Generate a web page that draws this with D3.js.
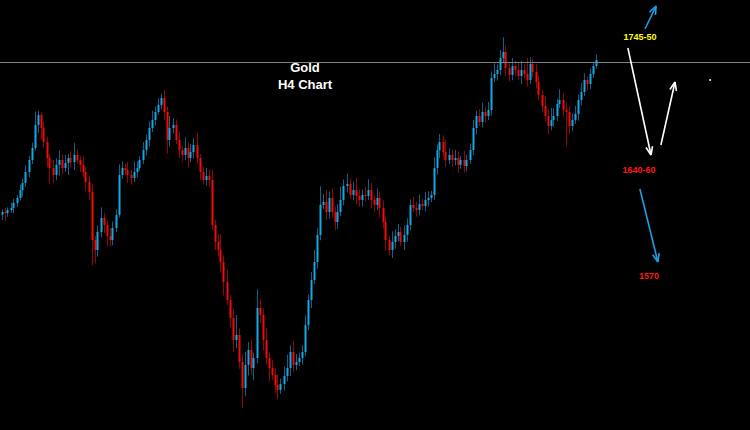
<!DOCTYPE html>
<html><head><meta charset="utf-8">
<script src="https://cdn.jsdelivr.net/npm/d3@7/dist/d3.min.js"></script>
<style>html,body{margin:0;padding:0;background:#000;overflow:hidden}</style>
</head><body>
<svg id="c" width="750" height="430"></svg>
<script>
// Gold H4 closes (USD), candle open = previous close
const firstOpen = 1614;
const closes = [
1616,1615.3,1617.5,1619,1622.8,1626.5,1632.5,1637.8,1646,1655,
1664,1681.3,1688.8,1679,1668.5,1656.5,1649,1643.8,1651.3,1655,
1649,1652.8,1656.5,1653.5,1658.8,1655,1651.3,1646,1638.5,1631,
1595,1587.5,1601,1611.5,1606.3,1598,1595,1604,1613.8,1643.8,
1649,1647.5,1643.8,1641.5,1646,1649,1655,1662.5,1670,1679,
1685,1691,1696.3,1701.5,1691,1670,1679,1681.3,1670,1662.5,
1658.8,1664,1656.5,1661,1666.3,1656.5,1646,1640,1643,1640,
1606.3,1593.5,1587.5,1578.5,1563.5,1550,1536.5,1520,1523.8,1503.5,
1484,1501.3,1512.5,1499,1506.5,1544,1538.8,1520,1506.5,1499,
1493.8,1486.3,1482.5,1487,1493,1499,1511,1501.3,1503.5,1506.5,
1511,1531.3,1550,1565,1578.5,1598.8,1621.3,1623.5,1616,1626.5,
1616,1608.5,1616,1625,1635.5,1637,1628.8,1632.5,1628,1625,
1628.8,1628,1632.5,1625,1621.3,1626.5,1619,1608.5,1595,1587.5,
1593.5,1598,1601,1593.5,1598.8,1606.3,1621.3,1619,1617.5,1622,
1620.5,1625,1626.5,1628.8,1649,1662.5,1668.5,1661,1655,1658.8,
1655,1656.5,1651.3,1655,1650.5,1655,1662.5,1679,1688,1683.5,
1691,1688,1692.5,1716.5,1719.5,1722.5,1731.5,1736,1724,1718.8,
1725.5,1722.5,1718,1722.5,1719.5,1715,1727,1721,1713.5,1703.8,
1695.5,1688,1680.5,1685,1688,1697,1700,1692.5,1691,1680.5,
1685,1689.5,1700,1706,1715,1712,1719.5,1725.5,1730
];
// upper wick above body top, lower wick below body bottom (USD)
const upWick = [
2,3,2,4,3,2,4,3,5,3, 4,10,3,2,5,4,3,6,5,7, 4,6,3,5,9,4,3,6,4,5,
6,3,5,8,4,3,6,5,4,8, 5,3,6,4,8,5,3,6,4,5, 7,4,5,3,6,4,9,5,4,6,
3,8,4,6,5,9,3,4,6,5, 8,4,6,12,5,9,4,7,15,5, 6,10,6,8,4,14,7,5,9,4,
6,5,8,4,7,10,5,8,6,4, 5,7,4,6,9,5,14,6,9,5, 7,4,6,10,5,8,4,6,9,5,
4,6,8,5,4,7,5,6,4,3, 8,5,6,4,7,5,4,6,5,7, 4,6,5,3,8,4,6,5,9,5,
4,6,5,3,7,4,5,6,4,5, 7,4,6,5,8,4,6,11,5,4, 6,4,5,7,4,12,5,4,6,5,
4,7,5,9,6,4,8,5,6,4, 5,6,4,7,5,3,4,3,4
];
const downWick = [
4,6,3,2,4,3,2,5,3,4, 3,2,6,9,4,7,12,6,4,8, 5,3,9,4,6,3,5,4,7,6,
19,10,5,4,6,8,5,4,3,2, 3,4,6,5,3,4,2,3,4,5, 3,4,2,3,6,10,5,4,3,6,
5,4,7,3,5,4,6,3,4,5, 4,6,5,8,10,4,7,9,6,5, 15,6,8,5,9,4,6,8,5,10,
4,6,7,3,5,4,6,5,4,3, 5,3,4,6,3,5,4,3,6,5, 4,6,5,3,4,5,3,4,6,5,
5,4,3,6,5,4,7,5,8,4, 6,5,4,3,6,5,4,3,5,4, 3,4,5,3,4,5,6,4,5,3,
5,4,6,3,5,4,3,4,5,3, 4,5,3,4,3,5,4,3,6,5, 4,5,3,6,4,5,3,4,5,4,
5,4,6,3,5,4,3,5,26,6, 4,3,5,4,3,5,4,3,2
];
const resistancePrice = 1728.5;
const titleLines = ["Gold", "H4 Chart"];
// annotation levels: [label, candle index, price, colour]
const levelLabels = [["1745-50", 212.8, 1747.25, "#ffff00"], ["1640-60", 212.5, 1647.5, "#ff1a1a"], ["1570", 215.8, 1568, "#ff1a1a"]];
// forecast arrows: [fromIndex, fromPrice, toIndex, toPrice, colour]
const arrows = [
  [214.5, 1753.25, 218.2, 1770.5, "#1e9fe3"],
  [208.8, 1739, 216.5, 1658.75, "#ffffff"],
  [219.8, 1666.25, 224.5, 1713.5, "#ffffff"],
  [212.8, 1633.25, 218.8, 1578.5, "#1e9fe3"]
];
const dotPoint = [236.2, 1715];

const W = 750, H = 430;
const svg = d3.select("#c");
svg.append("rect").attr("width", W).attr("height", H).attr("fill", "#000");
const x = d3.scaleLinear().domain([0, 249]).range([1.5, 748.5]);
const y = d3.scaleLinear().domain([1452.5, 1775]).range([H, 0]);

const data = closes.map((c, i) => {
  const o = i === 0 ? firstOpen : closes[i - 1];
  return {i, o, c, h: Math.max(o, c) + upWick[i], l: Math.min(o, c) - downWick[i]};
});
const BULL = "#13a9e6", BEAR = "#f50a0a";
const g = svg.append("g");
g.selectAll("line.w").data(data).join("line")
  .attr("x1", d => Math.round(x(d.i)) + 0.5).attr("x2", d => Math.round(x(d.i)) + 0.5)
  .attr("y1", d => y(d.h)).attr("y2", d => y(d.l))
  .attr("stroke", d => d.c >= d.o ? BULL : BEAR).attr("stroke-opacity", 0.6).attr("stroke-width", 1);
g.selectAll("rect.b").data(data).join("rect")
  .attr("x", d => Math.round(x(d.i)) - 0.5).attr("width", 2)
  .attr("y", d => y(Math.max(d.o, d.c)))
  .attr("height", d => Math.max(1, Math.abs(y(d.o) - y(d.c))))
  .attr("fill", d => d.c >= d.o ? BULL : BEAR);

svg.append("line").attr("x1", 0).attr("x2", W)
  .attr("y1", Math.round(y(resistancePrice)) + 0.5).attr("y2", Math.round(y(resistancePrice)) + 0.5)
  .attr("stroke", "#7a828a").attr("stroke-width", 1);

svg.selectAll("text.t").data(titleLines).join("text")
  .attr("x", 305).attr("y", (d, k) => 72 + k * 17)
  .attr("text-anchor", "middle").attr("fill", "#fff")
  .attr("font-family", "Liberation Sans, Arial, sans-serif").attr("font-weight", "bold").attr("font-size", 13)
  .text(d => d);

svg.selectAll("text.l").data(levelLabels).join("text")
  .attr("x", d => x(d[1])).attr("y", d => y(d[2]) + 3)
  .attr("text-anchor", "middle").attr("fill", d => d[3])
  .attr("font-family", "Liberation Sans, Arial, sans-serif").attr("font-weight", "bold").attr("font-size", 9)
  .text(d => d[0]);

arrows.forEach(a => {
  const x1 = x(a[0]), y1 = y(a[1]), x2 = x(a[2]), y2 = y(a[3]);
  const ang = Math.atan2(y2 - y1, x2 - x1);
  const len = 9, spread = 0.38;
  svg.append("line").attr("x1", x1).attr("y1", y1).attr("x2", x2).attr("y2", y2)
    .attr("stroke", a[4]).attr("stroke-width", 1.6);
  [-spread, spread].forEach(s => {
    svg.append("line").attr("x1", x2).attr("y1", y2)
      .attr("x2", x2 - len * Math.cos(ang + s)).attr("y2", y2 - len * Math.sin(ang + s))
      .attr("stroke", a[4]).attr("stroke-width", 1.6);
  });
});
svg.append("circle").attr("cx", x(dotPoint[0])).attr("cy", y(dotPoint[1])).attr("r", 1).attr("fill", "#fff");
</script>
</body></html>
